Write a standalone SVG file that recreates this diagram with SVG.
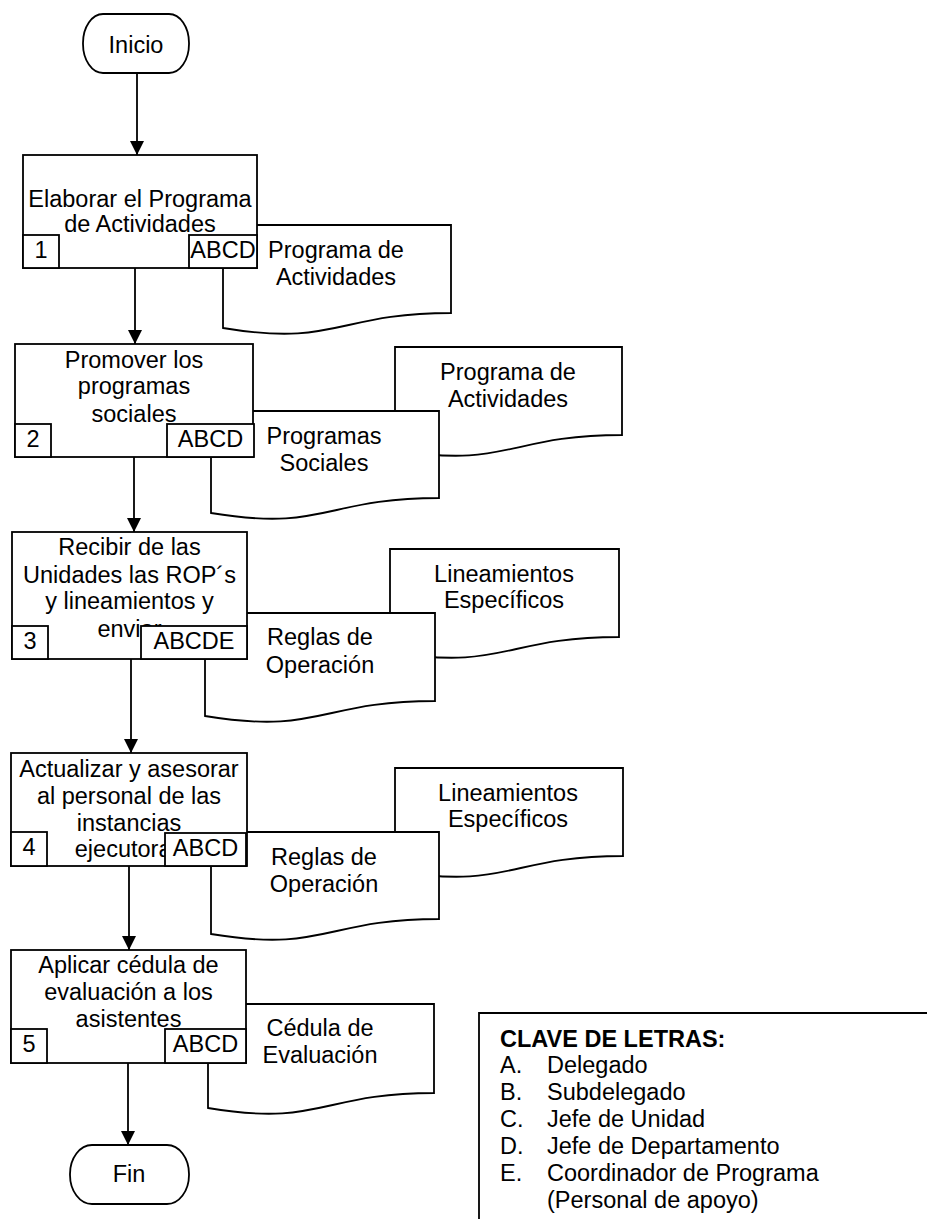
<svg xmlns="http://www.w3.org/2000/svg" width="927" height="1219" viewBox="0 0 927 1219">
<style>
text{font-family:"Liberation Sans",Arial,sans-serif;font-size:23.5px;fill:#000}
.c{text-anchor:middle}
.b{font-weight:bold}
.s{fill:#fff;stroke:#000;stroke-width:1.8}
.ln{fill:none;stroke:#000;stroke-width:1.8}
</style>
<defs>
<marker id="ah" markerUnits="userSpaceOnUse" markerWidth="14" markerHeight="14" refX="14" refY="7" orient="auto">
<path d="M0,0 L14,7 L0,14 z" fill="#000"/>
</marker>
</defs>
<rect width="927" height="1219" fill="#fff"/>

<g id="inicio">
<rect class="s" x="83" y="14" width="106" height="59" rx="20" ry="29"/>
<text class="c" x="136" y="53">Inicio</text>
</g>

<g id="doc1">
<path class="s" d="M223,225 L451,225 L451,313 C337,313 337,347 223,328 Z"/>
<text class="c" x="336" y="258">Programa de</text>
<text class="c" x="336" y="285">Actividades</text>
</g>

<g id="paso1">
<rect class="s" x="23" y="155" width="234" height="113"/>
<text class="c" x="140" y="207">Elaborar el Programa</text>
<text class="c" x="140" y="232">de Actividades</text>
<rect class="s" x="23" y="235" width="36" height="33"/>
<text class="c" x="41" y="258">1</text>
<rect class="s" x="189" y="235" width="68" height="33"/>
<text class="c" x="223" y="258">ABCD</text>
</g>

<g id="doc2a">
<path class="s" d="M395,347 L622,347 L622,435 C508,435 508,469 395,450 Z"/>
<text class="c" x="508" y="380">Programa de</text>
<text class="c" x="508" y="407">Actividades</text>
</g>
<g id="doc2b">
<path class="s" d="M211,411 L439,411 L439,498 C325,498 325,532 211,513 Z"/>
<text class="c" x="324" y="444">Programas</text>
<text class="c" x="324" y="471">Sociales</text>
</g>

<g id="paso2">
<rect class="s" x="15" y="344" width="238" height="113"/>
<text class="c" x="134" y="368">Promover los</text>
<text class="c" x="134" y="394">programas</text>
<text class="c" x="134" y="422">sociales</text>
<rect class="s" x="15" y="424" width="36" height="33"/>
<text class="c" x="33" y="447">2</text>
<rect class="s" x="167" y="424" width="87" height="33"/>
<text class="c" x="210.5" y="447">ABCD</text>
</g>

<g id="doc3a">
<path class="s" d="M390,549 L619,549 L619,637 C504.5,637 504.5,671 390,652 Z"/>
<text class="c" x="504" y="582">Lineamientos</text>
<text class="c" x="504" y="608">Específicos</text>
</g>
<g id="doc3b">
<path class="s" d="M205,613 L435,613 L435,701 C320,701 320,735 205,716 Z"/>
<text class="c" x="320" y="645">Reglas de</text>
<text class="c" x="320" y="673">Operación</text>
</g>

<g id="paso3">
<rect class="s" x="12" y="532" width="235" height="127"/>
<text class="c" x="129.5" y="555">Recibir de las</text>
<text class="c" x="129.5" y="583">Unidades las ROP´s</text>
<text class="c" x="129.5" y="609">y lineamientos y</text>
<text class="c" x="129.5" y="637">enviar</text>
<rect class="s" x="12" y="626" width="36" height="33"/>
<text class="c" x="30" y="649">3</text>
<rect class="s" x="141" y="626" width="106" height="33"/>
<text class="c" x="194" y="649">ABCDE</text>
</g>

<g id="doc4a">
<path class="s" d="M395,768 L623,768 L623,856 C509,856 509,890 395,871 Z"/>
<text class="c" x="508" y="801">Lineamientos</text>
<text class="c" x="508" y="827">Específicos</text>
</g>
<g id="doc4b">
<path class="s" d="M211,832 L439,832 L439,919 C325,919 325,953 211,934 Z"/>
<text class="c" x="324" y="865">Reglas de</text>
<text class="c" x="324" y="892">Operación</text>
</g>

<g id="paso4">
<rect class="s" x="11" y="753" width="236" height="113"/>
<text class="c" x="129" y="777">Actualizar y asesorar</text>
<text class="c" x="129" y="804">al personal de las</text>
<text class="c" x="129" y="831">instancias</text>
<text class="c" x="129" y="857">ejecutoras</text>
<rect class="s" x="11" y="832" width="36" height="34"/>
<text class="c" x="29" y="855">4</text>
<rect class="s" x="165" y="833" width="81" height="33"/>
<text class="c" x="205.5" y="856">ABCD</text>
</g>

<g id="doc5">
<path class="s" d="M208,1004 L434,1004 L434,1093 C321,1093 321,1127 208,1108 Z"/>
<text class="c" x="320" y="1036">Cédula de</text>
<text class="c" x="320" y="1063">Evaluación</text>
</g>

<g id="paso5">
<rect class="s" x="11" y="950" width="235" height="113"/>
<text class="c" x="128.5" y="973">Aplicar cédula de</text>
<text class="c" x="128.5" y="1000">evaluación a los</text>
<text class="c" x="128.5" y="1027">asistentes</text>
<rect class="s" x="11" y="1029" width="36" height="34"/>
<text class="c" x="29" y="1052">5</text>
<rect class="s" x="165" y="1029" width="81" height="34"/>
<text class="c" x="205.5" y="1052">ABCD</text>
</g>

<g id="fin">
<rect class="s" x="70" y="1145" width="119" height="59" rx="22" ry="29"/>
<text class="c" x="129" y="1182">Fin</text>
</g>

<g id="clave">
<path class="ln" d="M927,1013 H479 V1219"/>
<text class="b" x="500" y="1047">CLAVE DE LETRAS:</text>
<text x="500" y="1073">A.</text><text x="547" y="1073">Delegado</text>
<text x="500" y="1100">B.</text><text x="547" y="1100">Subdelegado</text>
<text x="500" y="1127">C.</text><text x="547" y="1127">Jefe de Unidad</text>
<text x="500" y="1154">D.</text><text x="547" y="1154">Jefe de Departamento</text>
<text x="500" y="1181">E.</text><text x="547" y="1181">Coordinador de Programa</text>
<text x="547" y="1208">(Personal de apoyo)</text>
</g>

<g id="conectores" class="ln">
<line x1="137" y1="73" x2="137" y2="155" marker-end="url(#ah)"/>
<line x1="135" y1="268" x2="135" y2="344" marker-end="url(#ah)"/>
<line x1="134" y1="457" x2="134" y2="532" marker-end="url(#ah)"/>
<line x1="131" y1="659" x2="131" y2="753" marker-end="url(#ah)"/>
<line x1="129" y1="866" x2="129" y2="950" marker-end="url(#ah)"/>
<line x1="128" y1="1063" x2="128" y2="1145" marker-end="url(#ah)"/>
</g>
</svg>
